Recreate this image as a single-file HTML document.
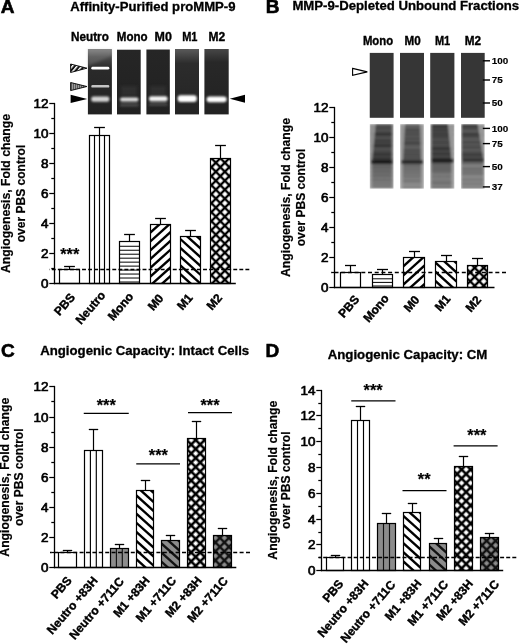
<!DOCTYPE html><html><head><meta charset="utf-8"><style>html,body{margin:0;padding:0;background:#fff;}svg{display:block;filter:grayscale(1) blur(0.35px);}</style></head><body>
<svg width="520" height="644" viewBox="0 0 520 644" font-family='"Liberation Sans", sans-serif'>

<defs>
 <pattern id="pArrHatch" patternUnits="userSpaceOnUse" width="3.6" height="3.6" patternTransform="rotate(-50)"><rect width="3.6" height="3.6" fill="#111"/><rect x="0" y="0" width="3.6" height="1.5" fill="#fff"/></pattern>
 <pattern id="pArrGray" patternUnits="userSpaceOnUse" width="2" height="4"><rect width="2" height="4" fill="#5a5a5a"/><rect x="0" y="0" width="1" height="4" fill="#9a9a9a"/></pattern>
 <filter id="blur1" x="-20%" y="-100%" width="140%" height="300%"><feGaussianBlur stdDeviation="0.8"/></filter>
 <filter id="blur15" x="-20%" y="-100%" width="140%" height="300%"><feGaussianBlur stdDeviation="1.4"/></filter>
 <filter id="blur05" x="-10%" y="-100%" width="120%" height="300%"><feGaussianBlur stdDeviation="0.5"/></filter>
 <filter id="blurG" x="-5%" y="-5%" width="110%" height="110%"><feGaussianBlur stdDeviation="0.85"/></filter>
 <linearGradient id="gTopA" x1="0" y1="0" x2="0" y2="1"><stop offset="0" stop-color="#808080"/><stop offset="0.12" stop-color="#4a4a4a"/><stop offset="0.3" stop-color="#2a2a2a"/><stop offset="1" stop-color="#222"/></linearGradient>
 <linearGradient id="gTopM1" x1="0" y1="0" x2="0" y2="1"><stop offset="0" stop-color="#5a5a5a"/><stop offset="0.22" stop-color="#2c2c2c"/><stop offset="1" stop-color="#242424"/></linearGradient><linearGradient id="gTopM1b" x1="0" y1="0" x2="0" y2="1"><stop offset="0" stop-color="#474747"/><stop offset="0.2" stop-color="#282828"/><stop offset="1" stop-color="#222"/></linearGradient>
 <linearGradient id="gDark" x1="0" y1="0" x2="0" y2="1"><stop offset="0" stop-color="#262626"/><stop offset="1" stop-color="#212121"/></linearGradient>
</defs>
<rect width="520" height="644" fill="#fff"/>
<text x="0.8" y="12.7" font-size="19" font-weight="bold" text-anchor="start" stroke="#000" stroke-width="0.6">A</text>
<text x="265.8" y="12.7" font-size="19" font-weight="bold" text-anchor="start" stroke="#000" stroke-width="0.6">B</text>
<text x="1" y="357" font-size="19" font-weight="bold" text-anchor="start" stroke="#000" stroke-width="0.6">C</text>
<text x="265.6" y="357" font-size="19" font-weight="bold" text-anchor="start" stroke="#000" stroke-width="0.6">D</text>
<text x="70.2" y="10.5" font-size="12.4" font-weight="bold" text-anchor="start" textLength="165.3" lengthAdjust="spacingAndGlyphs" stroke="#000" stroke-width="0.3">Affinity-Purified proMMP-9</text>
<text x="292.4" y="10.3" font-size="12.4" font-weight="bold" text-anchor="start" textLength="226.8" lengthAdjust="spacingAndGlyphs" stroke="#000" stroke-width="0.3">MMP-9-Depleted Unbound Fractions</text>
<text x="40.2" y="355.3" font-size="12.4" font-weight="bold" text-anchor="start" textLength="209" lengthAdjust="spacingAndGlyphs" stroke="#000" stroke-width="0.3">Angiogenic Capacity: Intact Cells</text>
<text x="327.7" y="358.8" font-size="12.4" font-weight="bold" text-anchor="start" textLength="159.7" lengthAdjust="spacingAndGlyphs" stroke="#000" stroke-width="0.3">Angiogenic Capacity: CM</text>
<line x1="69.5" y1="269.5" x2="69.5" y2="266.5" stroke="#000" stroke-width="1.2"/>
<line x1="64.1" y1="266.5" x2="74.9" y2="266.5" stroke="#000" stroke-width="1.3"/>
<clipPath id="c1"><rect x="59.5" y="269.5" width="20" height="14"/></clipPath>
<rect x="59.5" y="269.5" width="20" height="14" fill="#fff"/>
<g clip-path="url(#c1)"></g>
<rect x="59.5" y="269.5" width="20" height="14" fill="none" stroke="#000" stroke-width="1.2"/>
<line x1="99.5" y1="135.5" x2="99.5" y2="127.5" stroke="#000" stroke-width="1.2"/>
<line x1="94.1" y1="127.5" x2="104.9" y2="127.5" stroke="#000" stroke-width="1.3"/>
<clipPath id="c2"><rect x="89.5" y="135.5" width="20" height="148"/></clipPath>
<rect x="89.5" y="135.5" width="20" height="148" fill="#fff"/>
<g clip-path="url(#c2)"><line x1="94.5" y1="135.5" x2="94.5" y2="283.5" stroke="#000" stroke-width="1.15"/><line x1="99.5" y1="135.5" x2="99.5" y2="283.5" stroke="#000" stroke-width="1.15"/><line x1="104.5" y1="135.5" x2="104.5" y2="283.5" stroke="#000" stroke-width="1.15"/></g>
<rect x="89.5" y="135.5" width="20" height="148" fill="none" stroke="#000" stroke-width="1.2"/>
<line x1="129.5" y1="241.5" x2="129.5" y2="234.5" stroke="#000" stroke-width="1.2"/>
<line x1="124.1" y1="234.5" x2="134.9" y2="234.5" stroke="#000" stroke-width="1.3"/>
<clipPath id="c3"><rect x="119.5" y="241.5" width="20" height="42"/></clipPath>
<rect x="119.5" y="241.5" width="20" height="42" fill="#fff"/>
<g clip-path="url(#c3)"><line x1="119.5" y1="282" x2="139.5" y2="282" stroke="#000" stroke-width="1.0"/><line x1="119.5" y1="278.03" x2="139.5" y2="278.03" stroke="#000" stroke-width="1.0"/><line x1="119.5" y1="274.06" x2="139.5" y2="274.06" stroke="#000" stroke-width="1.0"/><line x1="119.5" y1="270.09" x2="139.5" y2="270.09" stroke="#000" stroke-width="1.0"/><line x1="119.5" y1="266.12" x2="139.5" y2="266.12" stroke="#000" stroke-width="1.0"/><line x1="119.5" y1="262.15" x2="139.5" y2="262.15" stroke="#000" stroke-width="1.0"/><line x1="119.5" y1="258.18" x2="139.5" y2="258.18" stroke="#000" stroke-width="1.0"/><line x1="119.5" y1="254.21" x2="139.5" y2="254.21" stroke="#000" stroke-width="1.0"/><line x1="119.5" y1="250.24" x2="139.5" y2="250.24" stroke="#000" stroke-width="1.0"/><line x1="119.5" y1="246.27" x2="139.5" y2="246.27" stroke="#000" stroke-width="1.0"/></g>
<rect x="119.5" y="241.5" width="20" height="42" fill="none" stroke="#000" stroke-width="1.2"/>
<line x1="160.5" y1="224.5" x2="160.5" y2="218.5" stroke="#000" stroke-width="1.2"/>
<line x1="155.1" y1="218.5" x2="165.9" y2="218.5" stroke="#000" stroke-width="1.3"/>
<clipPath id="c4"><rect x="150.5" y="224.5" width="20" height="59"/></clipPath>
<rect x="150.5" y="224.5" width="20" height="59" fill="#fff"/>
<g clip-path="url(#c4)"><line x1="148.5" y1="207.9" x2="172.5" y2="186.29" stroke="#000" stroke-width="2.4"/><line x1="148.5" y1="216.7" x2="172.5" y2="195.09" stroke="#000" stroke-width="2.4"/><line x1="148.5" y1="225.5" x2="172.5" y2="203.89" stroke="#000" stroke-width="2.4"/><line x1="148.5" y1="234.3" x2="172.5" y2="212.69" stroke="#000" stroke-width="2.4"/><line x1="148.5" y1="243.1" x2="172.5" y2="221.49" stroke="#000" stroke-width="2.4"/><line x1="148.5" y1="251.9" x2="172.5" y2="230.29" stroke="#000" stroke-width="2.4"/><line x1="148.5" y1="260.7" x2="172.5" y2="239.09" stroke="#000" stroke-width="2.4"/><line x1="148.5" y1="269.5" x2="172.5" y2="247.89" stroke="#000" stroke-width="2.4"/><line x1="148.5" y1="278.3" x2="172.5" y2="256.69" stroke="#000" stroke-width="2.4"/><line x1="148.5" y1="287.1" x2="172.5" y2="265.49" stroke="#000" stroke-width="2.4"/><line x1="148.5" y1="295.9" x2="172.5" y2="274.29" stroke="#000" stroke-width="2.4"/><line x1="148.5" y1="304.7" x2="172.5" y2="283.09" stroke="#000" stroke-width="2.4"/></g>
<rect x="150.5" y="224.5" width="20" height="59" fill="none" stroke="#000" stroke-width="1.2"/>
<line x1="190.5" y1="236.5" x2="190.5" y2="230.5" stroke="#000" stroke-width="1.2"/>
<line x1="185.1" y1="230.5" x2="195.9" y2="230.5" stroke="#000" stroke-width="1.3"/>
<clipPath id="c5"><rect x="180.5" y="236.5" width="20" height="47"/></clipPath>
<rect x="180.5" y="236.5" width="20" height="47" fill="#fff"/>
<g clip-path="url(#c5)"><line x1="178.5" y1="211" x2="202.5" y2="232.61" stroke="#000" stroke-width="2.4"/><line x1="178.5" y1="219.8" x2="202.5" y2="241.41" stroke="#000" stroke-width="2.4"/><line x1="178.5" y1="228.6" x2="202.5" y2="250.21" stroke="#000" stroke-width="2.4"/><line x1="178.5" y1="237.4" x2="202.5" y2="259.01" stroke="#000" stroke-width="2.4"/><line x1="178.5" y1="246.2" x2="202.5" y2="267.81" stroke="#000" stroke-width="2.4"/><line x1="178.5" y1="255" x2="202.5" y2="276.61" stroke="#000" stroke-width="2.4"/><line x1="178.5" y1="263.8" x2="202.5" y2="285.41" stroke="#000" stroke-width="2.4"/><line x1="178.5" y1="272.6" x2="202.5" y2="294.21" stroke="#000" stroke-width="2.4"/><line x1="178.5" y1="281.4" x2="202.5" y2="303.01" stroke="#000" stroke-width="2.4"/><line x1="178.5" y1="290.2" x2="202.5" y2="311.81" stroke="#000" stroke-width="2.4"/><line x1="178.5" y1="299" x2="202.5" y2="320.61" stroke="#000" stroke-width="2.4"/><line x1="178.5" y1="307.8" x2="202.5" y2="329.41" stroke="#000" stroke-width="2.4"/></g>
<rect x="180.5" y="236.5" width="20" height="47" fill="none" stroke="#000" stroke-width="1.2"/>
<line x1="220.5" y1="158.5" x2="220.5" y2="145.5" stroke="#000" stroke-width="1.2"/>
<line x1="215.1" y1="145.5" x2="225.9" y2="145.5" stroke="#000" stroke-width="1.3"/>
<clipPath id="c6"><rect x="210.5" y="158.5" width="20" height="125"/></clipPath>
<rect x="210.5" y="158.5" width="20" height="125" fill="#fff"/>
<pattern id="px6" patternUnits="userSpaceOnUse" width="6.36" height="6.36" patternTransform="translate(220.35 162.7) scale(1 1) rotate(45) translate(-3.18 -3.18)"><rect width="6.36" height="6.36" fill="#000"/><rect x="1.18" y="1.18" width="4" height="4" fill="#fff"/></pattern>
<g clip-path="url(#c6)"><rect x="210.5" y="158.5" width="20" height="125" fill="url(#px6)"/></g>
<rect x="210.5" y="158.5" width="20" height="125" fill="none" stroke="#000" stroke-width="1.2"/>
<line x1="49.3" y1="269.5" x2="249.3" y2="269.5" stroke="#000" stroke-width="1.35" stroke-dasharray="3.9 2.15" stroke-dashoffset="3.55"/>
<line x1="54.5" y1="102.9" x2="54.5" y2="284.15" stroke="#000" stroke-width="1.3"/>
<line x1="53.85" y1="283.5" x2="235.8" y2="283.5" stroke="#000" stroke-width="1.3"/>
<line x1="49.3" y1="283.5" x2="54.5" y2="283.5" stroke="#000" stroke-width="1.25"/>
<text x="48.5" y="288.1" font-size="13.5" font-weight="normal" text-anchor="end" stroke="#000" stroke-width="0.7">0</text>
<line x1="51.3" y1="268.5" x2="54.5" y2="268.5" stroke="#000" stroke-width="1.25"/>
<line x1="49.3" y1="253.5" x2="54.5" y2="253.5" stroke="#000" stroke-width="1.25"/>
<text x="48.5" y="258.1" font-size="13.5" font-weight="normal" text-anchor="end" stroke="#000" stroke-width="0.7">2</text>
<line x1="51.3" y1="238.5" x2="54.5" y2="238.5" stroke="#000" stroke-width="1.25"/>
<line x1="49.3" y1="223.5" x2="54.5" y2="223.5" stroke="#000" stroke-width="1.25"/>
<text x="48.5" y="228.1" font-size="13.5" font-weight="normal" text-anchor="end" stroke="#000" stroke-width="0.7">4</text>
<line x1="51.3" y1="208.5" x2="54.5" y2="208.5" stroke="#000" stroke-width="1.25"/>
<line x1="49.3" y1="193.5" x2="54.5" y2="193.5" stroke="#000" stroke-width="1.25"/>
<text x="48.5" y="198.1" font-size="13.5" font-weight="normal" text-anchor="end" stroke="#000" stroke-width="0.7">6</text>
<line x1="51.3" y1="178.5" x2="54.5" y2="178.5" stroke="#000" stroke-width="1.25"/>
<line x1="49.3" y1="163.5" x2="54.5" y2="163.5" stroke="#000" stroke-width="1.25"/>
<text x="48.5" y="168.1" font-size="13.5" font-weight="normal" text-anchor="end" stroke="#000" stroke-width="0.7">8</text>
<line x1="51.3" y1="148.5" x2="54.5" y2="148.5" stroke="#000" stroke-width="1.25"/>
<line x1="49.3" y1="133.5" x2="54.5" y2="133.5" stroke="#000" stroke-width="1.25"/>
<text x="48.5" y="138.1" font-size="13.5" font-weight="normal" text-anchor="end" stroke="#000" stroke-width="0.7">10</text>
<line x1="51.3" y1="118.5" x2="54.5" y2="118.5" stroke="#000" stroke-width="1.25"/>
<line x1="49.3" y1="103.5" x2="54.5" y2="103.5" stroke="#000" stroke-width="1.25"/>
<text x="48.5" y="108.1" font-size="13.5" font-weight="normal" text-anchor="end" stroke="#000" stroke-width="0.7">12</text>
<text transform="translate(9.5 193.5) rotate(-90)" font-size="12.4" font-weight="bold" text-anchor="middle" textLength="159" lengthAdjust="spacingAndGlyphs" stroke="#000" stroke-width="0.2">Angiogenesis, Fold change</text>
<text transform="translate(24.5 193.5) rotate(-90)" font-size="12.4" font-weight="bold" text-anchor="middle" textLength="97.5" lengthAdjust="spacingAndGlyphs" stroke="#000" stroke-width="0.2">over PBS control</text>
<text transform="translate(75.6 297.6) rotate(-49.5)" font-size="12" font-weight="bold" text-anchor="end" stroke="#000" stroke-width="0.4">PBS</text>
<text transform="translate(106.05 295.6) rotate(-49.5)" font-size="12" font-weight="bold" text-anchor="end" stroke="#000" stroke-width="0.4">Neutro</text>
<text transform="translate(134.1 296.9) rotate(-49.5)" font-size="12" font-weight="bold" text-anchor="end" stroke="#000" stroke-width="0.4">Mono</text>
<text transform="translate(164.05 298.6) rotate(-49.5)" font-size="12" font-weight="bold" text-anchor="end" stroke="#000" stroke-width="0.4">M0</text>
<text transform="translate(193.4 298.1) rotate(-49.5)" font-size="12" font-weight="bold" text-anchor="end" stroke="#000" stroke-width="0.4">M1</text>
<text transform="translate(222.75 298.1) rotate(-49.5)" font-size="12" font-weight="bold" text-anchor="end" stroke="#000" stroke-width="0.4">M2</text>
<text x="69.7" y="260.2" font-size="16.4" font-weight="bold" text-anchor="middle" stroke="#000" stroke-width="0.2">***</text>
<line x1="350.5" y1="272.5" x2="350.5" y2="265.5" stroke="#000" stroke-width="1.2"/>
<line x1="345" y1="265.5" x2="356" y2="265.5" stroke="#000" stroke-width="1.3"/>
<clipPath id="c7"><rect x="340.5" y="272.5" width="20" height="15"/></clipPath>
<rect x="340.5" y="272.5" width="20" height="15" fill="#fff"/>
<g clip-path="url(#c7)"></g>
<rect x="340.5" y="272.5" width="20" height="15" fill="none" stroke="#000" stroke-width="1.2"/>
<line x1="382.5" y1="274.5" x2="382.5" y2="269.5" stroke="#000" stroke-width="1.2"/>
<line x1="377" y1="269.5" x2="388" y2="269.5" stroke="#000" stroke-width="1.3"/>
<clipPath id="c8"><rect x="372.5" y="274.5" width="20" height="13"/></clipPath>
<rect x="372.5" y="274.5" width="20" height="13" fill="#fff"/>
<g clip-path="url(#c8)"><line x1="372.5" y1="286" x2="392.5" y2="286" stroke="#000" stroke-width="1.0"/><line x1="372.5" y1="282.4" x2="392.5" y2="282.4" stroke="#000" stroke-width="1.0"/><line x1="372.5" y1="278.8" x2="392.5" y2="278.8" stroke="#000" stroke-width="1.0"/></g>
<rect x="372.5" y="274.5" width="20" height="13" fill="none" stroke="#000" stroke-width="1.2"/>
<line x1="414.5" y1="257.5" x2="414.5" y2="251.5" stroke="#000" stroke-width="1.2"/>
<line x1="409" y1="251.5" x2="420" y2="251.5" stroke="#000" stroke-width="1.3"/>
<clipPath id="c9"><rect x="403.5" y="257.5" width="21" height="30"/></clipPath>
<rect x="403.5" y="257.5" width="21" height="30" fill="#fff"/>
<g clip-path="url(#c9)"><line x1="401.5" y1="240.3" x2="426.5" y2="217.79" stroke="#000" stroke-width="2.4"/><line x1="401.5" y1="249.5" x2="426.5" y2="226.99" stroke="#000" stroke-width="2.4"/><line x1="401.5" y1="258.7" x2="426.5" y2="236.19" stroke="#000" stroke-width="2.4"/><line x1="401.5" y1="267.9" x2="426.5" y2="245.39" stroke="#000" stroke-width="2.4"/><line x1="401.5" y1="277.1" x2="426.5" y2="254.59" stroke="#000" stroke-width="2.4"/><line x1="401.5" y1="286.3" x2="426.5" y2="263.79" stroke="#000" stroke-width="2.4"/><line x1="401.5" y1="295.5" x2="426.5" y2="272.99" stroke="#000" stroke-width="2.4"/><line x1="401.5" y1="304.7" x2="426.5" y2="282.19" stroke="#000" stroke-width="2.4"/><line x1="401.5" y1="313.9" x2="426.5" y2="291.39" stroke="#000" stroke-width="2.4"/></g>
<rect x="403.5" y="257.5" width="21" height="30" fill="none" stroke="#000" stroke-width="1.2"/>
<line x1="446.5" y1="261.5" x2="446.5" y2="255.5" stroke="#000" stroke-width="1.2"/>
<line x1="441" y1="255.5" x2="452" y2="255.5" stroke="#000" stroke-width="1.3"/>
<clipPath id="c10"><rect x="435.5" y="261.5" width="21" height="26"/></clipPath>
<rect x="435.5" y="261.5" width="21" height="26" fill="#fff"/>
<g clip-path="url(#c10)"><line x1="433.5" y1="233.25" x2="458.5" y2="255.76" stroke="#000" stroke-width="2.4"/><line x1="433.5" y1="242.45" x2="458.5" y2="264.96" stroke="#000" stroke-width="2.4"/><line x1="433.5" y1="251.65" x2="458.5" y2="274.16" stroke="#000" stroke-width="2.4"/><line x1="433.5" y1="260.85" x2="458.5" y2="283.36" stroke="#000" stroke-width="2.4"/><line x1="433.5" y1="270.05" x2="458.5" y2="292.56" stroke="#000" stroke-width="2.4"/><line x1="433.5" y1="279.25" x2="458.5" y2="301.76" stroke="#000" stroke-width="2.4"/><line x1="433.5" y1="288.45" x2="458.5" y2="310.96" stroke="#000" stroke-width="2.4"/><line x1="433.5" y1="297.65" x2="458.5" y2="320.16" stroke="#000" stroke-width="2.4"/><line x1="433.5" y1="306.85" x2="458.5" y2="329.36" stroke="#000" stroke-width="2.4"/></g>
<rect x="435.5" y="261.5" width="21" height="26" fill="none" stroke="#000" stroke-width="1.2"/>
<line x1="477.5" y1="265.5" x2="477.5" y2="258.5" stroke="#000" stroke-width="1.2"/>
<line x1="472" y1="258.5" x2="483" y2="258.5" stroke="#000" stroke-width="1.3"/>
<clipPath id="c11"><rect x="467.5" y="265.5" width="20" height="22"/></clipPath>
<rect x="467.5" y="265.5" width="20" height="22" fill="#fff"/>
<pattern id="px11" patternUnits="userSpaceOnUse" width="6.36" height="6.36" patternTransform="translate(479.2 276.8) scale(1 1) rotate(45) translate(-3.18 -3.18)"><rect width="6.36" height="6.36" fill="#000"/><rect x="1.18" y="1.18" width="4" height="4" fill="#fff"/></pattern>
<g clip-path="url(#c11)"><rect x="467.5" y="265.5" width="20" height="22" fill="url(#px11)"/></g>
<rect x="467.5" y="265.5" width="20" height="22" fill="none" stroke="#000" stroke-width="1.2"/>
<line x1="331.4" y1="272.5" x2="506" y2="272.5" stroke="#000" stroke-width="1.35" stroke-dasharray="4 2.7" stroke-dashoffset="3.6"/>
<line x1="334.5" y1="106.9" x2="334.5" y2="288.15" stroke="#000" stroke-width="1.3"/>
<line x1="333.85" y1="287.5" x2="494.5" y2="287.5" stroke="#000" stroke-width="1.3"/>
<line x1="329.3" y1="287.5" x2="334.5" y2="287.5" stroke="#000" stroke-width="1.25"/>
<text x="328.5" y="292.1" font-size="13.5" font-weight="normal" text-anchor="end" stroke="#000" stroke-width="0.7">0</text>
<line x1="331.3" y1="272.5" x2="334.5" y2="272.5" stroke="#000" stroke-width="1.25"/>
<line x1="329.3" y1="257.5" x2="334.5" y2="257.5" stroke="#000" stroke-width="1.25"/>
<text x="328.5" y="262.1" font-size="13.5" font-weight="normal" text-anchor="end" stroke="#000" stroke-width="0.7">2</text>
<line x1="331.3" y1="242.5" x2="334.5" y2="242.5" stroke="#000" stroke-width="1.25"/>
<line x1="329.3" y1="227.5" x2="334.5" y2="227.5" stroke="#000" stroke-width="1.25"/>
<text x="328.5" y="232.1" font-size="13.5" font-weight="normal" text-anchor="end" stroke="#000" stroke-width="0.7">4</text>
<line x1="331.3" y1="212.5" x2="334.5" y2="212.5" stroke="#000" stroke-width="1.25"/>
<line x1="329.3" y1="197.5" x2="334.5" y2="197.5" stroke="#000" stroke-width="1.25"/>
<text x="328.5" y="202.1" font-size="13.5" font-weight="normal" text-anchor="end" stroke="#000" stroke-width="0.7">6</text>
<line x1="331.3" y1="182.5" x2="334.5" y2="182.5" stroke="#000" stroke-width="1.25"/>
<line x1="329.3" y1="167.5" x2="334.5" y2="167.5" stroke="#000" stroke-width="1.25"/>
<text x="328.5" y="172.1" font-size="13.5" font-weight="normal" text-anchor="end" stroke="#000" stroke-width="0.7">8</text>
<line x1="331.3" y1="152.5" x2="334.5" y2="152.5" stroke="#000" stroke-width="1.25"/>
<line x1="329.3" y1="137.5" x2="334.5" y2="137.5" stroke="#000" stroke-width="1.25"/>
<text x="328.5" y="142.1" font-size="13.5" font-weight="normal" text-anchor="end" stroke="#000" stroke-width="0.7">10</text>
<line x1="331.3" y1="122.5" x2="334.5" y2="122.5" stroke="#000" stroke-width="1.25"/>
<line x1="329.3" y1="107.5" x2="334.5" y2="107.5" stroke="#000" stroke-width="1.25"/>
<text x="328.5" y="112.1" font-size="13.5" font-weight="normal" text-anchor="end" stroke="#000" stroke-width="0.7">12</text>
<text transform="translate(289.6 197.5) rotate(-90)" font-size="12.4" font-weight="bold" text-anchor="middle" textLength="159" lengthAdjust="spacingAndGlyphs" stroke="#000" stroke-width="0.2">Angiogenesis, Fold change</text>
<text transform="translate(304.6 197.5) rotate(-90)" font-size="12.4" font-weight="bold" text-anchor="middle" textLength="97.5" lengthAdjust="spacingAndGlyphs" stroke="#000" stroke-width="0.2">over PBS control</text>
<text transform="translate(359.85 299.75) rotate(-49.5)" font-size="12" font-weight="bold" text-anchor="end" stroke="#000" stroke-width="0.4">PBS</text>
<text transform="translate(389.5 298.75) rotate(-49.5)" font-size="12" font-weight="bold" text-anchor="end" stroke="#000" stroke-width="0.4">Mono</text>
<text transform="translate(420.2 300.1) rotate(-49.5)" font-size="12" font-weight="bold" text-anchor="end" stroke="#000" stroke-width="0.4">M0</text>
<text transform="translate(451.05 299.2) rotate(-49.5)" font-size="12" font-weight="bold" text-anchor="end" stroke="#000" stroke-width="0.4">M1</text>
<text transform="translate(481.9 300.1) rotate(-49.5)" font-size="12" font-weight="bold" text-anchor="end" stroke="#000" stroke-width="0.4">M2</text>
<line x1="67.5" y1="552.5" x2="67.5" y2="550.5" stroke="#000" stroke-width="1.2"/>
<line x1="62.8" y1="550.5" x2="72.2" y2="550.5" stroke="#000" stroke-width="1.3"/>
<clipPath id="c12"><rect x="58.5" y="552.5" width="18" height="15"/></clipPath>
<rect x="58.5" y="552.5" width="18" height="15" fill="#fff"/>
<g clip-path="url(#c12)"></g>
<rect x="58.5" y="552.5" width="18" height="15" fill="none" stroke="#000" stroke-width="1.2"/>
<line x1="93.5" y1="450.5" x2="93.5" y2="429.5" stroke="#000" stroke-width="1.2"/>
<line x1="88.8" y1="429.5" x2="98.2" y2="429.5" stroke="#000" stroke-width="1.3"/>
<clipPath id="c13"><rect x="84.5" y="450.5" width="18" height="117"/></clipPath>
<rect x="84.5" y="450.5" width="18" height="117" fill="#fff"/>
<g clip-path="url(#c13)"><line x1="90.4" y1="450.5" x2="90.4" y2="567.5" stroke="#000" stroke-width="1.15"/><line x1="96.3" y1="450.5" x2="96.3" y2="567.5" stroke="#000" stroke-width="1.15"/></g>
<rect x="84.5" y="450.5" width="18" height="117" fill="none" stroke="#000" stroke-width="1.2"/>
<line x1="119.5" y1="548.5" x2="119.5" y2="544.5" stroke="#000" stroke-width="1.2"/>
<line x1="114.8" y1="544.5" x2="124.2" y2="544.5" stroke="#000" stroke-width="1.3"/>
<clipPath id="c14"><rect x="110.5" y="548.5" width="18" height="19"/></clipPath>
<rect x="110.5" y="548.5" width="18" height="19" fill="#8c8c8c"/>
<g clip-path="url(#c14)"><line x1="116.4" y1="548.5" x2="116.4" y2="567.5" stroke="#111" stroke-width="1.15"/><line x1="122.3" y1="548.5" x2="122.3" y2="567.5" stroke="#111" stroke-width="1.15"/></g>
<rect x="110.5" y="548.5" width="18" height="19" fill="none" stroke="#000" stroke-width="1.2"/>
<line x1="145.5" y1="490.5" x2="145.5" y2="480.5" stroke="#000" stroke-width="1.2"/>
<line x1="140.8" y1="480.5" x2="150.2" y2="480.5" stroke="#000" stroke-width="1.3"/>
<clipPath id="c15"><rect x="136.5" y="490.5" width="17" height="77"/></clipPath>
<rect x="136.5" y="490.5" width="17" height="77" fill="#fff"/>
<g clip-path="url(#c15)"><line x1="134.5" y1="466.55" x2="155.5" y2="485.46" stroke="#000" stroke-width="2.4"/><line x1="134.5" y1="475.65" x2="155.5" y2="494.56" stroke="#000" stroke-width="2.4"/><line x1="134.5" y1="484.75" x2="155.5" y2="503.66" stroke="#000" stroke-width="2.4"/><line x1="134.5" y1="493.85" x2="155.5" y2="512.76" stroke="#000" stroke-width="2.4"/><line x1="134.5" y1="502.95" x2="155.5" y2="521.86" stroke="#000" stroke-width="2.4"/><line x1="134.5" y1="512.05" x2="155.5" y2="530.96" stroke="#000" stroke-width="2.4"/><line x1="134.5" y1="521.15" x2="155.5" y2="540.06" stroke="#000" stroke-width="2.4"/><line x1="134.5" y1="530.25" x2="155.5" y2="549.16" stroke="#000" stroke-width="2.4"/><line x1="134.5" y1="539.35" x2="155.5" y2="558.26" stroke="#000" stroke-width="2.4"/><line x1="134.5" y1="548.45" x2="155.5" y2="567.36" stroke="#000" stroke-width="2.4"/><line x1="134.5" y1="557.55" x2="155.5" y2="576.46" stroke="#000" stroke-width="2.4"/><line x1="134.5" y1="566.65" x2="155.5" y2="585.56" stroke="#000" stroke-width="2.4"/><line x1="134.5" y1="575.75" x2="155.5" y2="594.66" stroke="#000" stroke-width="2.4"/><line x1="134.5" y1="584.85" x2="155.5" y2="603.76" stroke="#000" stroke-width="2.4"/></g>
<rect x="136.5" y="490.5" width="17" height="77" fill="none" stroke="#000" stroke-width="1.2"/>
<line x1="170.5" y1="540.5" x2="170.5" y2="535.5" stroke="#000" stroke-width="1.2"/>
<line x1="165.8" y1="535.5" x2="175.2" y2="535.5" stroke="#000" stroke-width="1.3"/>
<clipPath id="c16"><rect x="161.5" y="540.5" width="18" height="27"/></clipPath>
<rect x="161.5" y="540.5" width="18" height="27" fill="#8c8c8c"/>
<g clip-path="url(#c16)"><line x1="159.5" y1="514.4" x2="181.5" y2="534.21" stroke="#111" stroke-width="2.4"/><line x1="159.5" y1="523.5" x2="181.5" y2="543.31" stroke="#111" stroke-width="2.4"/><line x1="159.5" y1="532.6" x2="181.5" y2="552.41" stroke="#111" stroke-width="2.4"/><line x1="159.5" y1="541.7" x2="181.5" y2="561.51" stroke="#111" stroke-width="2.4"/><line x1="159.5" y1="550.8" x2="181.5" y2="570.61" stroke="#111" stroke-width="2.4"/><line x1="159.5" y1="559.9" x2="181.5" y2="579.71" stroke="#111" stroke-width="2.4"/><line x1="159.5" y1="569" x2="181.5" y2="588.81" stroke="#111" stroke-width="2.4"/><line x1="159.5" y1="578.1" x2="181.5" y2="597.91" stroke="#111" stroke-width="2.4"/><line x1="159.5" y1="587.2" x2="181.5" y2="607.01" stroke="#111" stroke-width="2.4"/></g>
<rect x="161.5" y="540.5" width="18" height="27" fill="none" stroke="#000" stroke-width="1.2"/>
<line x1="196.5" y1="438.5" x2="196.5" y2="421.5" stroke="#000" stroke-width="1.2"/>
<line x1="191.8" y1="421.5" x2="201.2" y2="421.5" stroke="#000" stroke-width="1.3"/>
<clipPath id="c17"><rect x="187.5" y="438.5" width="18" height="129"/></clipPath>
<rect x="187.5" y="438.5" width="18" height="129" fill="#fff"/>
<pattern id="px17" patternUnits="userSpaceOnUse" width="6.36" height="6.36" patternTransform="translate(195.7 444.5) scale(1 1) rotate(45) translate(-3.18 -3.18)"><rect width="6.36" height="6.36" fill="#000"/><rect x="1.28" y="1.28" width="3.8" height="3.8" fill="#fff"/></pattern>
<g clip-path="url(#c17)"><rect x="187.5" y="438.5" width="18" height="129" fill="url(#px17)"/></g>
<rect x="187.5" y="438.5" width="18" height="129" fill="none" stroke="#000" stroke-width="1.2"/>
<line x1="222.5" y1="535.5" x2="222.5" y2="528.5" stroke="#000" stroke-width="1.2"/>
<line x1="217.8" y1="528.5" x2="227.2" y2="528.5" stroke="#000" stroke-width="1.3"/>
<clipPath id="c18"><rect x="213.5" y="535.5" width="18" height="32"/></clipPath>
<rect x="213.5" y="535.5" width="18" height="32" fill="#8c8c8c"/>
<pattern id="px18" patternUnits="userSpaceOnUse" width="6.36" height="6.36" patternTransform="translate(224.4 537.9) scale(1 1) rotate(45) translate(-3.18 -3.18)"><rect width="6.36" height="6.36" fill="#111"/><rect x="1.23" y="1.23" width="3.9" height="3.9" fill="#8c8c8c"/></pattern>
<g clip-path="url(#c18)"><rect x="213.5" y="535.5" width="18" height="32" fill="url(#px18)"/></g>
<rect x="213.5" y="535.5" width="18" height="32" fill="none" stroke="#000" stroke-width="1.2"/>
<line x1="50" y1="552.5" x2="250" y2="552.5" stroke="#000" stroke-width="1.35" stroke-dasharray="4 2.4" stroke-dashoffset="2.4"/>
<line x1="54.5" y1="385.9" x2="54.5" y2="568.15" stroke="#000" stroke-width="1.3"/>
<line x1="53.85" y1="567.5" x2="236.3" y2="567.5" stroke="#000" stroke-width="1.3"/>
<line x1="49.3" y1="567.5" x2="54.5" y2="567.5" stroke="#000" stroke-width="1.25"/>
<text x="48.5" y="572.1" font-size="13.5" font-weight="normal" text-anchor="end" stroke="#000" stroke-width="0.7">0</text>
<line x1="51.3" y1="552.5" x2="54.5" y2="552.5" stroke="#000" stroke-width="1.25"/>
<line x1="49.3" y1="537.5" x2="54.5" y2="537.5" stroke="#000" stroke-width="1.25"/>
<text x="48.5" y="542.1" font-size="13.5" font-weight="normal" text-anchor="end" stroke="#000" stroke-width="0.7">2</text>
<line x1="51.3" y1="522.5" x2="54.5" y2="522.5" stroke="#000" stroke-width="1.25"/>
<line x1="49.3" y1="507.5" x2="54.5" y2="507.5" stroke="#000" stroke-width="1.25"/>
<text x="48.5" y="512.1" font-size="13.5" font-weight="normal" text-anchor="end" stroke="#000" stroke-width="0.7">4</text>
<line x1="51.3" y1="492.5" x2="54.5" y2="492.5" stroke="#000" stroke-width="1.25"/>
<line x1="49.3" y1="477.5" x2="54.5" y2="477.5" stroke="#000" stroke-width="1.25"/>
<text x="48.5" y="482.1" font-size="13.5" font-weight="normal" text-anchor="end" stroke="#000" stroke-width="0.7">6</text>
<line x1="51.3" y1="462.5" x2="54.5" y2="462.5" stroke="#000" stroke-width="1.25"/>
<line x1="49.3" y1="447.5" x2="54.5" y2="447.5" stroke="#000" stroke-width="1.25"/>
<text x="48.5" y="452.1" font-size="13.5" font-weight="normal" text-anchor="end" stroke="#000" stroke-width="0.7">8</text>
<line x1="51.3" y1="432.5" x2="54.5" y2="432.5" stroke="#000" stroke-width="1.25"/>
<line x1="49.3" y1="417.5" x2="54.5" y2="417.5" stroke="#000" stroke-width="1.25"/>
<text x="48.5" y="422.1" font-size="13.5" font-weight="normal" text-anchor="end" stroke="#000" stroke-width="0.7">10</text>
<line x1="51.3" y1="401.5" x2="54.5" y2="401.5" stroke="#000" stroke-width="1.25"/>
<line x1="49.3" y1="386.5" x2="54.5" y2="386.5" stroke="#000" stroke-width="1.25"/>
<text x="48.5" y="391.1" font-size="13.5" font-weight="normal" text-anchor="end" stroke="#000" stroke-width="0.7">12</text>
<text transform="translate(9 477.2) rotate(-90)" font-size="12.4" font-weight="bold" text-anchor="middle" textLength="159" lengthAdjust="spacingAndGlyphs" stroke="#000" stroke-width="0.2">Angiogenesis, Fold change</text>
<text transform="translate(23.4 477.2) rotate(-90)" font-size="12.4" font-weight="bold" text-anchor="middle" textLength="97.5" lengthAdjust="spacingAndGlyphs" stroke="#000" stroke-width="0.2">over PBS control</text>
<text transform="translate(72.45 580.8) rotate(-49.5)" font-size="12" font-weight="bold" text-anchor="end" stroke="#000" stroke-width="0.4">PBS</text>
<text transform="translate(98.42 581) rotate(-49.5)" font-size="12" font-weight="bold" text-anchor="end" stroke="#000" stroke-width="0.4">Neutro +83H</text>
<text transform="translate(124.7 581.6) rotate(-49.5)" font-size="12" font-weight="bold" text-anchor="end" stroke="#000" stroke-width="0.4">Neutro +711C</text>
<text transform="translate(150.47 580.8) rotate(-49.5)" font-size="12" font-weight="bold" text-anchor="end" stroke="#000" stroke-width="0.4">M1 +83H</text>
<text transform="translate(176.93 581) rotate(-49.5)" font-size="12" font-weight="bold" text-anchor="end" stroke="#000" stroke-width="0.4">M1 +711C</text>
<text transform="translate(202.43 580.8) rotate(-49.5)" font-size="12" font-weight="bold" text-anchor="end" stroke="#000" stroke-width="0.4">M2 +83H</text>
<text transform="translate(228.55 581.2) rotate(-49.5)" font-size="12" font-weight="bold" text-anchor="end" stroke="#000" stroke-width="0.4">M2 +711C</text>
<line x1="83.75" y1="413.25" x2="128.75" y2="413.25" stroke="#000" stroke-width="1.25"/>
<text x="106.25" y="410.9" font-size="16.4" font-weight="bold" text-anchor="middle" stroke="#000" stroke-width="0.2">***</text>
<line x1="136.25" y1="463.75" x2="180" y2="463.75" stroke="#000" stroke-width="1.25"/>
<text x="158.4" y="461" font-size="16.4" font-weight="bold" text-anchor="middle" stroke="#000" stroke-width="0.2">***</text>
<line x1="188" y1="412.5" x2="232" y2="412.5" stroke="#000" stroke-width="1.25"/>
<text x="210" y="410.7" font-size="16.4" font-weight="bold" text-anchor="middle" stroke="#000" stroke-width="0.2">***</text>
<line x1="335.5" y1="557.5" x2="335.5" y2="555.5" stroke="#000" stroke-width="1.2"/>
<line x1="330.8" y1="555.5" x2="340.2" y2="555.5" stroke="#000" stroke-width="1.3"/>
<clipPath id="c19"><rect x="326.5" y="557.5" width="17" height="13"/></clipPath>
<rect x="326.5" y="557.5" width="17" height="13" fill="#fff"/>
<g clip-path="url(#c19)"></g>
<rect x="326.5" y="557.5" width="17" height="13" fill="none" stroke="#000" stroke-width="1.2"/>
<line x1="360.5" y1="420.5" x2="360.5" y2="406.5" stroke="#000" stroke-width="1.2"/>
<line x1="355.8" y1="406.5" x2="365.2" y2="406.5" stroke="#000" stroke-width="1.3"/>
<clipPath id="c20"><rect x="351.5" y="420.5" width="18" height="150"/></clipPath>
<rect x="351.5" y="420.5" width="18" height="150" fill="#fff"/>
<g clip-path="url(#c20)"><line x1="357.5" y1="420.5" x2="357.5" y2="570.5" stroke="#000" stroke-width="1.15"/><line x1="363.5" y1="420.5" x2="363.5" y2="570.5" stroke="#000" stroke-width="1.15"/></g>
<rect x="351.5" y="420.5" width="18" height="150" fill="none" stroke="#000" stroke-width="1.2"/>
<line x1="386.5" y1="523.5" x2="386.5" y2="513.5" stroke="#000" stroke-width="1.2"/>
<line x1="381.8" y1="513.5" x2="391.2" y2="513.5" stroke="#000" stroke-width="1.3"/>
<clipPath id="c21"><rect x="377.5" y="523.5" width="18" height="47"/></clipPath>
<rect x="377.5" y="523.5" width="18" height="47" fill="#8c8c8c"/>
<g clip-path="url(#c21)"><line x1="383.5" y1="523.5" x2="383.5" y2="570.5" stroke="#111" stroke-width="1.15"/><line x1="389.5" y1="523.5" x2="389.5" y2="570.5" stroke="#111" stroke-width="1.15"/></g>
<rect x="377.5" y="523.5" width="18" height="47" fill="none" stroke="#000" stroke-width="1.2"/>
<line x1="412.5" y1="512.5" x2="412.5" y2="503.5" stroke="#000" stroke-width="1.2"/>
<line x1="407.8" y1="503.5" x2="417.2" y2="503.5" stroke="#000" stroke-width="1.3"/>
<clipPath id="c22"><rect x="403.5" y="512.5" width="17" height="58"/></clipPath>
<rect x="403.5" y="512.5" width="17" height="58" fill="#fff"/>
<g clip-path="url(#c22)"><line x1="401.5" y1="486.9" x2="422.5" y2="505.81" stroke="#000" stroke-width="2.4"/><line x1="401.5" y1="496" x2="422.5" y2="514.91" stroke="#000" stroke-width="2.4"/><line x1="401.5" y1="505.1" x2="422.5" y2="524.01" stroke="#000" stroke-width="2.4"/><line x1="401.5" y1="514.2" x2="422.5" y2="533.11" stroke="#000" stroke-width="2.4"/><line x1="401.5" y1="523.3" x2="422.5" y2="542.21" stroke="#000" stroke-width="2.4"/><line x1="401.5" y1="532.4" x2="422.5" y2="551.31" stroke="#000" stroke-width="2.4"/><line x1="401.5" y1="541.5" x2="422.5" y2="560.41" stroke="#000" stroke-width="2.4"/><line x1="401.5" y1="550.6" x2="422.5" y2="569.51" stroke="#000" stroke-width="2.4"/><line x1="401.5" y1="559.7" x2="422.5" y2="578.61" stroke="#000" stroke-width="2.4"/><line x1="401.5" y1="568.8" x2="422.5" y2="587.71" stroke="#000" stroke-width="2.4"/><line x1="401.5" y1="577.9" x2="422.5" y2="596.81" stroke="#000" stroke-width="2.4"/><line x1="401.5" y1="587" x2="422.5" y2="605.91" stroke="#000" stroke-width="2.4"/></g>
<rect x="403.5" y="512.5" width="17" height="58" fill="none" stroke="#000" stroke-width="1.2"/>
<line x1="438.5" y1="543.5" x2="438.5" y2="538.5" stroke="#000" stroke-width="1.2"/>
<line x1="433.8" y1="538.5" x2="443.2" y2="538.5" stroke="#000" stroke-width="1.3"/>
<clipPath id="c23"><rect x="429.5" y="543.5" width="17" height="27"/></clipPath>
<rect x="429.5" y="543.5" width="17" height="27" fill="#8c8c8c"/>
<g clip-path="url(#c23)"><line x1="427.5" y1="517.4" x2="448.5" y2="536.31" stroke="#111" stroke-width="2.4"/><line x1="427.5" y1="526.5" x2="448.5" y2="545.41" stroke="#111" stroke-width="2.4"/><line x1="427.5" y1="535.6" x2="448.5" y2="554.51" stroke="#111" stroke-width="2.4"/><line x1="427.5" y1="544.7" x2="448.5" y2="563.61" stroke="#111" stroke-width="2.4"/><line x1="427.5" y1="553.8" x2="448.5" y2="572.71" stroke="#111" stroke-width="2.4"/><line x1="427.5" y1="562.9" x2="448.5" y2="581.81" stroke="#111" stroke-width="2.4"/><line x1="427.5" y1="572" x2="448.5" y2="590.91" stroke="#111" stroke-width="2.4"/><line x1="427.5" y1="581.1" x2="448.5" y2="600.01" stroke="#111" stroke-width="2.4"/><line x1="427.5" y1="590.2" x2="448.5" y2="609.11" stroke="#111" stroke-width="2.4"/></g>
<rect x="429.5" y="543.5" width="17" height="27" fill="none" stroke="#000" stroke-width="1.2"/>
<line x1="463.5" y1="466.5" x2="463.5" y2="456.5" stroke="#000" stroke-width="1.2"/>
<line x1="458.8" y1="456.5" x2="468.2" y2="456.5" stroke="#000" stroke-width="1.3"/>
<clipPath id="c24"><rect x="454.5" y="466.5" width="18" height="104"/></clipPath>
<rect x="454.5" y="466.5" width="18" height="104" fill="#fff"/>
<pattern id="px24" patternUnits="userSpaceOnUse" width="6.36" height="6.36" patternTransform="translate(461.6 474) scale(1 1) rotate(45) translate(-3.18 -3.18)"><rect width="6.36" height="6.36" fill="#000"/><rect x="1.28" y="1.28" width="3.8" height="3.8" fill="#fff"/></pattern>
<g clip-path="url(#c24)"><rect x="454.5" y="466.5" width="18" height="104" fill="url(#px24)"/></g>
<rect x="454.5" y="466.5" width="18" height="104" fill="none" stroke="#000" stroke-width="1.2"/>
<line x1="489.5" y1="537.5" x2="489.5" y2="533.5" stroke="#000" stroke-width="1.2"/>
<line x1="484.8" y1="533.5" x2="494.2" y2="533.5" stroke="#000" stroke-width="1.3"/>
<clipPath id="c25"><rect x="480.5" y="537.5" width="18" height="33"/></clipPath>
<rect x="480.5" y="537.5" width="18" height="33" fill="#8c8c8c"/>
<pattern id="px25" patternUnits="userSpaceOnUse" width="6.36" height="6.36" patternTransform="translate(491.1 540.8) scale(1 1) rotate(45) translate(-3.18 -3.18)"><rect width="6.36" height="6.36" fill="#111"/><rect x="1.23" y="1.23" width="3.9" height="3.9" fill="#8c8c8c"/></pattern>
<g clip-path="url(#c25)"><rect x="480.5" y="537.5" width="18" height="33" fill="url(#px25)"/></g>
<rect x="480.5" y="537.5" width="18" height="33" fill="none" stroke="#000" stroke-width="1.2"/>
<line x1="318.7" y1="557.5" x2="516.3" y2="557.5" stroke="#000" stroke-width="1.35" stroke-dasharray="4 2.1" stroke-dashoffset="1.6"/>
<line x1="321.5" y1="389.9" x2="321.5" y2="571.15" stroke="#000" stroke-width="1.3"/>
<line x1="320.85" y1="570.5" x2="503.2" y2="570.5" stroke="#000" stroke-width="1.3"/>
<line x1="316.3" y1="570.5" x2="321.5" y2="570.5" stroke="#000" stroke-width="1.25"/>
<text x="315.5" y="575.1" font-size="13.5" font-weight="normal" text-anchor="end" stroke="#000" stroke-width="0.7">0</text>
<line x1="318.3" y1="557.5" x2="321.5" y2="557.5" stroke="#000" stroke-width="1.25"/>
<line x1="316.3" y1="544.5" x2="321.5" y2="544.5" stroke="#000" stroke-width="1.25"/>
<text x="315.5" y="549.1" font-size="13.5" font-weight="normal" text-anchor="end" stroke="#000" stroke-width="0.7">2</text>
<line x1="318.3" y1="532.5" x2="321.5" y2="532.5" stroke="#000" stroke-width="1.25"/>
<line x1="316.3" y1="519.5" x2="321.5" y2="519.5" stroke="#000" stroke-width="1.25"/>
<text x="315.5" y="524.1" font-size="13.5" font-weight="normal" text-anchor="end" stroke="#000" stroke-width="0.7">4</text>
<line x1="318.3" y1="506.5" x2="321.5" y2="506.5" stroke="#000" stroke-width="1.25"/>
<line x1="316.3" y1="493.5" x2="321.5" y2="493.5" stroke="#000" stroke-width="1.25"/>
<text x="315.5" y="498.1" font-size="13.5" font-weight="normal" text-anchor="end" stroke="#000" stroke-width="0.7">6</text>
<line x1="318.3" y1="480.5" x2="321.5" y2="480.5" stroke="#000" stroke-width="1.25"/>
<line x1="316.3" y1="467.5" x2="321.5" y2="467.5" stroke="#000" stroke-width="1.25"/>
<text x="315.5" y="472.1" font-size="13.5" font-weight="normal" text-anchor="end" stroke="#000" stroke-width="0.7">8</text>
<line x1="318.3" y1="454.5" x2="321.5" y2="454.5" stroke="#000" stroke-width="1.25"/>
<line x1="316.3" y1="441.5" x2="321.5" y2="441.5" stroke="#000" stroke-width="1.25"/>
<text x="315.5" y="446.1" font-size="13.5" font-weight="normal" text-anchor="end" stroke="#000" stroke-width="0.7">10</text>
<line x1="318.3" y1="428.5" x2="321.5" y2="428.5" stroke="#000" stroke-width="1.25"/>
<line x1="316.3" y1="415.5" x2="321.5" y2="415.5" stroke="#000" stroke-width="1.25"/>
<text x="315.5" y="420.1" font-size="13.5" font-weight="normal" text-anchor="end" stroke="#000" stroke-width="0.7">12</text>
<line x1="318.3" y1="403.5" x2="321.5" y2="403.5" stroke="#000" stroke-width="1.25"/>
<line x1="316.3" y1="390.5" x2="321.5" y2="390.5" stroke="#000" stroke-width="1.25"/>
<text x="315.5" y="395.1" font-size="13.5" font-weight="normal" text-anchor="end" stroke="#000" stroke-width="0.7">14</text>
<text transform="translate(276.7 480.2) rotate(-90)" font-size="12.4" font-weight="bold" text-anchor="middle" textLength="159" lengthAdjust="spacingAndGlyphs" stroke="#000" stroke-width="0.2">Angiogenesis, Fold change</text>
<text transform="translate(290.4 480.2) rotate(-90)" font-size="12.4" font-weight="bold" text-anchor="middle" textLength="97.5" lengthAdjust="spacingAndGlyphs" stroke="#000" stroke-width="0.2">over PBS control</text>
<text transform="translate(344 584.25) rotate(-49.5)" font-size="12" font-weight="bold" text-anchor="end" stroke="#000" stroke-width="0.4">PBS</text>
<text transform="translate(369.1 584) rotate(-49.5)" font-size="12" font-weight="bold" text-anchor="end" stroke="#000" stroke-width="0.4">Neutro +83H</text>
<text transform="translate(396.05 584.8) rotate(-49.5)" font-size="12" font-weight="bold" text-anchor="end" stroke="#000" stroke-width="0.4">Neutro +711C</text>
<text transform="translate(422.05 584) rotate(-49.5)" font-size="12" font-weight="bold" text-anchor="end" stroke="#000" stroke-width="0.4">M1 +83H</text>
<text transform="translate(448.8 584.7) rotate(-49.5)" font-size="12" font-weight="bold" text-anchor="end" stroke="#000" stroke-width="0.4">M1 +711C</text>
<text transform="translate(473.65 584) rotate(-49.5)" font-size="12" font-weight="bold" text-anchor="end" stroke="#000" stroke-width="0.4">M2 +83H</text>
<text transform="translate(499.8 584.5) rotate(-49.5)" font-size="12" font-weight="bold" text-anchor="end" stroke="#000" stroke-width="0.4">M2 +711C</text>
<line x1="351.25" y1="400.75" x2="395.5" y2="400.75" stroke="#000" stroke-width="1.25"/>
<text x="373.1" y="396.45" font-size="16.4" font-weight="bold" text-anchor="middle" stroke="#000" stroke-width="0.2">***</text>
<line x1="402.5" y1="490.5" x2="446.5" y2="490.5" stroke="#000" stroke-width="1.25"/>
<text x="424.25" y="484.8" font-size="16.4" font-weight="bold" text-anchor="middle" stroke="#000" stroke-width="0.2">**</text>
<line x1="453.6" y1="445.75" x2="497.6" y2="445.75" stroke="#000" stroke-width="1.25"/>
<text x="476.9" y="440.95" font-size="16.4" font-weight="bold" text-anchor="middle" stroke="#000" stroke-width="0.2">***</text>
<text x="71" y="41.1" font-size="12" font-weight="bold" text-anchor="start" textLength="37.8" lengthAdjust="spacingAndGlyphs" stroke="#000" stroke-width="0.35">Neutro</text>
<text x="116.8" y="41.1" font-size="12" font-weight="bold" text-anchor="start" textLength="30.8" lengthAdjust="spacingAndGlyphs" stroke="#000" stroke-width="0.35">Mono</text>
<text x="154.6" y="41.1" font-size="12" font-weight="bold" text-anchor="start" textLength="17.3" lengthAdjust="spacingAndGlyphs" stroke="#000" stroke-width="0.35">M0</text>
<text x="182.2" y="41.1" font-size="12" font-weight="bold" text-anchor="start" textLength="15.3" lengthAdjust="spacingAndGlyphs" stroke="#000" stroke-width="0.35">M1</text>
<text x="208.5" y="41.1" font-size="12" font-weight="bold" text-anchor="start" textLength="16.7" lengthAdjust="spacingAndGlyphs" stroke="#000" stroke-width="0.35">M2</text>
<rect x="87.9" y="49" width="24" height="65.4" fill="url(#gTopA)"/>
<path d="M87.9 49 L111.9 49 L111.9 56 L87.9 66 Z" fill="#aaa" opacity="0.25" filter="url(#blur15)"/>
<rect x="117" y="49.7" width="23.7" height="64.7" fill="url(#gDark)"/>
<rect x="146.4" y="49.5" width="23.4" height="64.9" fill="url(#gDark)"/>
<rect x="175" y="49" width="24" height="65.4" fill="url(#gTopM1)"/>
<rect x="204.4" y="49" width="24.3" height="65.4" fill="url(#gTopM1b)"/>
<g filter="url(#blur15)" opacity="0.5">
<rect x="121" y="86" width="16" height="10" fill="#3a3a3a"/>
<rect x="150" y="86" width="16" height="10" fill="#3a3a3a"/>
</g>
<g filter="url(#blur05)">
<rect x="91.3" y="66.8" width="18" height="2.8" rx="1.4" fill="#fff"/>
<rect x="91.3" y="85.1" width="18" height="2.5" rx="1.2" fill="#c4c4c4"/>
</g>
<g filter="url(#blur1)">
<rect x="91.3" y="96.4" width="18" height="5.4" rx="2" fill="#d4d4d4"/>
<rect x="120" y="97.4" width="18.5" height="4.2" rx="2" fill="#e0e0e0"/>
<rect x="120" y="103.5" width="18.5" height="3" fill="#4a4a4a"/>
<rect x="149" y="96.2" width="18.5" height="5" rx="2" fill="#f4f4f4"/>
<rect x="149" y="103" width="18.5" height="3" fill="#444"/>
</g>
<g filter="url(#blur1)">
<rect x="177.6" y="95.2" width="19.2" height="6.8" rx="3" fill="#fff"/>
<rect x="206.6" y="96.5" width="20" height="5.8" rx="2.8" fill="#fff"/>
</g>
<path d="M70.6 64 L86.9 68.2 L70.6 72.5 Z" fill="url(#pArrHatch)" stroke="#000" stroke-width="0.9" stroke-linejoin="round"/>
<path d="M70.6 82.5 L86.9 86.5 L70.6 90.6 Z" fill="url(#pArrGray)" stroke="#000" stroke-width="0.9" stroke-linejoin="round"/>
<path d="M70.6 94.8 L87.2 99 L70.6 103.1 Z" fill="#000"/>
<path d="M229.8 98.7 L245 94.8 L245 102.7 Z" fill="#000"/>
<text x="362.9" y="44.7" font-size="12" font-weight="bold" text-anchor="start" textLength="30.2" lengthAdjust="spacingAndGlyphs" stroke="#000" stroke-width="0.35">Mono</text>
<text x="404.6" y="44.7" font-size="12" font-weight="bold" text-anchor="start" textLength="16.2" lengthAdjust="spacingAndGlyphs" stroke="#000" stroke-width="0.35">M0</text>
<text x="434.9" y="44.7" font-size="12" font-weight="bold" text-anchor="start" textLength="15.3" lengthAdjust="spacingAndGlyphs" stroke="#000" stroke-width="0.35">M1</text>
<text x="464.7" y="44.7" font-size="12" font-weight="bold" text-anchor="start" textLength="16.3" lengthAdjust="spacingAndGlyphs" stroke="#000" stroke-width="0.35">M2</text>
<rect x="369.75" y="52.9" width="23.85" height="64.9" fill="#363636"/>
<rect x="400" y="52.9" width="24" height="64.9" fill="#363636"/>
<rect x="430.2" y="52.9" width="24.2" height="64.9" fill="#363636"/>
<rect x="461" y="52.9" width="23.7" height="64.9" fill="#363636"/>
<path d="M352.6 68.4 L367.3 71.9 L352.6 75.4 Z" fill="#fff" stroke="#000" stroke-width="1.1"/>
<clipPath id="lowclip"><rect x="369.75" y="124.1" width="23.85" height="64.6"/><rect x="400" y="124.1" width="24" height="64.6"/><rect x="430.2" y="124.1" width="24.2" height="64.6"/><rect x="461" y="124.1" width="23.7" height="64.6"/></clipPath>
<g clip-path="url(#lowclip)"><g filter="url(#blurG)">
<rect x="369.75" y="124.1" width="23.85" height="37.9" fill="#444444"/>
<linearGradient id="lg369" x1="0" y1="0" x2="0" y2="1"><stop offset="0" stop-color="#5a5a5a"/><stop offset="1" stop-color="#868686"/></linearGradient>
<rect x="369.75" y="162" width="23.85" height="26.7" fill="url(#lg369)"/>
<rect x="369.75" y="125.5" width="23.85" height="1.6" fill="#525252"/>
<rect x="369.75" y="129.7" width="23.85" height="1.6" fill="#565656"/>
<rect x="369.75" y="133.3" width="23.85" height="1.6" fill="#2a2a2a"/>
<rect x="369.75" y="136.9" width="23.85" height="1.6" fill="#525252"/>
<rect x="369.75" y="140.5" width="23.85" height="1.6" fill="#3a3a3a"/>
<rect x="369.75" y="144.7" width="23.85" height="1.6" fill="#2a2a2a"/>
<rect x="369.75" y="148.3" width="23.85" height="1.6" fill="#565656"/>
<rect x="369.75" y="153.5" width="23.85" height="1.6" fill="#2a2a2a"/>
<rect x="369.75" y="157.7" width="23.85" height="1.6" fill="#2a2a2a"/>
<rect x="369.75" y="167" width="23.85" height="1.4" fill="#646464"/>
<rect x="369.75" y="171.6" width="23.85" height="1.4" fill="#646464"/>
<rect x="369.75" y="175" width="23.85" height="1.4" fill="#646464"/>
<rect x="369.75" y="179.6" width="23.85" height="1.4" fill="#686868"/>
<rect x="369.75" y="183" width="23.85" height="1.4" fill="#6e6e6e"/>
<rect x="369.75" y="186.4" width="23.85" height="1.4" fill="#6e6e6e"/>
<path d="M369.75 124.1 L375.75 124.1 L372.25 160 L372.25 188.7 L369.75 188.7 Z" fill="#9c9c9c" opacity="0.85"/>
<path d="M391.8 124.1 L393.6 124.1 L393.6 188.7 L391.8 188.7 L391.8 160 Z" fill="#9c9c9c" opacity="0.85"/>
<rect x="371.25" y="160.2" width="21.35" height="3.6" fill="#181818"/>
<rect x="400" y="124.1" width="24" height="37.9" fill="#545454"/>
<linearGradient id="lg400" x1="0" y1="0" x2="0" y2="1"><stop offset="0" stop-color="#626262"/><stop offset="1" stop-color="#8e8e8e"/></linearGradient>
<rect x="400" y="162" width="24" height="26.7" fill="url(#lg400)"/>
<rect x="400" y="125.5" width="24" height="1.6" fill="#666666"/>
<rect x="400" y="129.7" width="24" height="1.6" fill="#4a4a4a"/>
<rect x="400" y="133.3" width="24" height="1.6" fill="#4a4a4a"/>
<rect x="400" y="138.1" width="24" height="1.6" fill="#4a4a4a"/>
<rect x="400" y="142.3" width="24" height="1.6" fill="#3a3a3a"/>
<rect x="400" y="146.5" width="24" height="1.6" fill="#626262"/>
<rect x="400" y="150.1" width="24" height="1.6" fill="#4a4a4a"/>
<rect x="400" y="153.7" width="24" height="1.6" fill="#4a4a4a"/>
<rect x="400" y="157.3" width="24" height="1.6" fill="#4a4a4a"/>
<rect x="400" y="167" width="24" height="1.4" fill="#707070"/>
<rect x="400" y="171.6" width="24" height="1.4" fill="#707070"/>
<rect x="400" y="175.6" width="24" height="1.4" fill="#707070"/>
<rect x="400" y="180.2" width="24" height="1.4" fill="#707070"/>
<rect x="400" y="184.2" width="24" height="1.4" fill="#8e8e8e"/>
<rect x="400" y="187.6" width="24" height="1.4" fill="#767676"/>
<path d="M400 124.1 L405 124.1 L403 160 L403 188.7 L400 188.7 Z" fill="#a2a2a2" opacity="0.85"/>
<path d="M420 124.1 L424 124.1 L424 188.7 L421 188.7 L421 160 Z" fill="#a2a2a2" opacity="0.85"/>
<rect x="401.5" y="160.2" width="21.5" height="3.6" fill="#262626"/>
<rect x="430.2" y="124.1" width="24.2" height="36.7" fill="#444444"/>
<linearGradient id="lg430" x1="0" y1="0" x2="0" y2="1"><stop offset="0" stop-color="#585858"/><stop offset="1" stop-color="#848484"/></linearGradient>
<rect x="430.2" y="160.8" width="24.2" height="27.9" fill="url(#lg430)"/>
<rect x="430.2" y="125.5" width="24.2" height="1.6" fill="#323232"/>
<rect x="430.2" y="129.1" width="24.2" height="1.6" fill="#3a3a3a"/>
<rect x="430.2" y="133.9" width="24.2" height="1.6" fill="#3a3a3a"/>
<rect x="430.2" y="139.1" width="24.2" height="1.6" fill="#525252"/>
<rect x="430.2" y="144.3" width="24.2" height="1.6" fill="#525252"/>
<rect x="430.2" y="147.9" width="24.2" height="1.6" fill="#2a2a2a"/>
<rect x="430.2" y="153.1" width="24.2" height="1.6" fill="#323232"/>
<rect x="430.2" y="157.9" width="24.2" height="1.6" fill="#323232"/>
<rect x="430.2" y="165.8" width="24.2" height="1.4" fill="#666666"/>
<rect x="430.2" y="169.2" width="24.2" height="1.4" fill="#626262"/>
<rect x="430.2" y="173.8" width="24.2" height="1.4" fill="#848484"/>
<rect x="430.2" y="177.8" width="24.2" height="1.4" fill="#848484"/>
<rect x="430.2" y="182.4" width="24.2" height="1.4" fill="#666666"/>
<rect x="430.2" y="187" width="24.2" height="1.4" fill="#666666"/>
<path d="M430.2 124.1 L431.7 124.1 L431.7 158.8 L431.7 188.7 L430.2 188.7 Z" fill="#a6a6a6" opacity="0.85"/>
<path d="M447.9 124.1 L454.4 124.1 L454.4 188.7 L451.4 188.7 L451.4 158.8 Z" fill="#a6a6a6" opacity="0.85"/>
<rect x="431.7" y="159" width="21.7" height="3.6" fill="#1c1c1c"/>
<rect x="461" y="124.1" width="23.7" height="36.1" fill="#4c4c4c"/>
<linearGradient id="lg461" x1="0" y1="0" x2="0" y2="1"><stop offset="0" stop-color="#646464"/><stop offset="1" stop-color="#909090"/></linearGradient>
<rect x="461" y="160.2" width="23.7" height="28.5" fill="url(#lg461)"/>
<rect x="461" y="125.5" width="23.7" height="1.6" fill="#323232"/>
<rect x="461" y="130.3" width="23.7" height="1.6" fill="#5e5e5e"/>
<rect x="461" y="133.9" width="23.7" height="1.6" fill="#323232"/>
<rect x="461" y="138.7" width="23.7" height="1.6" fill="#626262"/>
<rect x="461" y="143.9" width="23.7" height="1.6" fill="#5a5a5a"/>
<rect x="461" y="149.1" width="23.7" height="1.6" fill="#626262"/>
<rect x="461" y="153.9" width="23.7" height="1.6" fill="#323232"/>
<rect x="461" y="165.2" width="23.7" height="1.4" fill="#909090"/>
<rect x="461" y="168.6" width="23.7" height="1.4" fill="#6e6e6e"/>
<rect x="461" y="172.6" width="23.7" height="1.4" fill="#6e6e6e"/>
<rect x="461" y="176" width="23.7" height="1.4" fill="#909090"/>
<rect x="461" y="179.4" width="23.7" height="1.4" fill="#787878"/>
<rect x="461" y="183.4" width="23.7" height="1.4" fill="#727272"/>
<rect x="461" y="187.4" width="23.7" height="1.4" fill="#6e6e6e"/>
<path d="M461 124.1 L461.8 124.1 L461.8 158.2 L461.8 188.7 L461 188.7 Z" fill="#a4a4a4" opacity="0.85"/>
<path d="M477.7 124.1 L484.7 124.1 L484.7 188.7 L483.2 188.7 L483.2 158.2 Z" fill="#a4a4a4" opacity="0.85"/>
<rect x="462.5" y="158.4" width="21.2" height="3.6" fill="#343434"/>
</g></g>
<line x1="482.8" y1="60.8" x2="490" y2="60.8" stroke="#000" stroke-width="1.4"/>
<text x="491.8" y="64.2" font-size="9.9" font-weight="bold" text-anchor="start" stroke="#000" stroke-width="0.15">100</text>
<line x1="482.8" y1="80" x2="490" y2="80" stroke="#000" stroke-width="1.4"/>
<text x="491.8" y="83.4" font-size="9.9" font-weight="bold" text-anchor="start" stroke="#000" stroke-width="0.15">75</text>
<line x1="482.8" y1="103" x2="490" y2="103" stroke="#000" stroke-width="1.4"/>
<text x="491.8" y="106.4" font-size="9.9" font-weight="bold" text-anchor="start" stroke="#000" stroke-width="0.15">50</text>
<line x1="482.8" y1="128.4" x2="490" y2="128.4" stroke="#000" stroke-width="1.4"/>
<text x="491.8" y="131.8" font-size="9.9" font-weight="bold" text-anchor="start" stroke="#000" stroke-width="0.15">100</text>
<line x1="482.8" y1="143.6" x2="490" y2="143.6" stroke="#000" stroke-width="1.4"/>
<text x="491.8" y="147" font-size="9.9" font-weight="bold" text-anchor="start" stroke="#000" stroke-width="0.15">75</text>
<line x1="482.8" y1="166.6" x2="490" y2="166.6" stroke="#000" stroke-width="1.4"/>
<text x="491.8" y="170" font-size="9.9" font-weight="bold" text-anchor="start" stroke="#000" stroke-width="0.15">50</text>
<line x1="482.8" y1="186.9" x2="490" y2="186.9" stroke="#000" stroke-width="1.4"/>
<text x="491.8" y="190.3" font-size="9.9" font-weight="bold" text-anchor="start" stroke="#000" stroke-width="0.15">37</text>
</svg></body></html>
